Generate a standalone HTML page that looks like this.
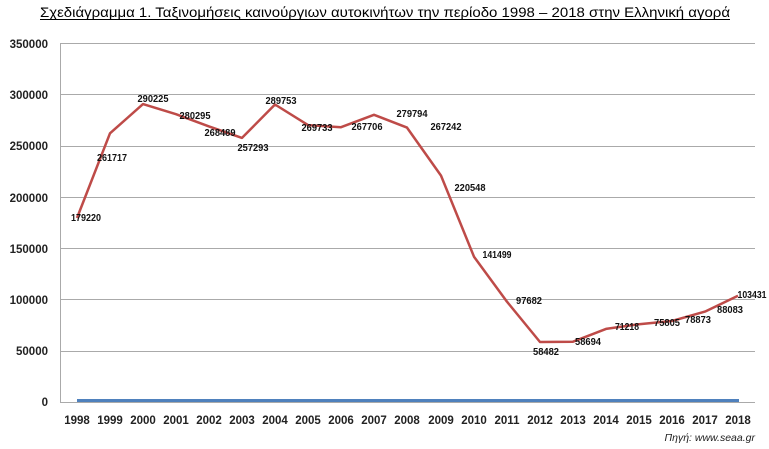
<!DOCTYPE html>
<html><head><meta charset="utf-8"><style>
html,body{margin:0;padding:0;background:#fff;}
svg{display:block;}
.v{font-family:"Liberation Sans","DejaVu Sans",sans-serif;font-weight:bold;font-size:10px;fill:#111;}
.t{font-family:"Liberation Sans","DejaVu Sans",sans-serif;font-weight:bold;font-size:11.5px;fill:#222;}
</style></head><body>
<svg width="769" height="449" viewBox="0 0 769 449" xmlns="http://www.w3.org/2000/svg">
<text x="40" y="17" font-family="Liberation Sans, DejaVu Sans, sans-serif" font-size="14" fill="#000" textLength="690" lengthAdjust="spacingAndGlyphs">Σχεδιάγραμμα 1. Ταξινομήσεις καινούργιων αυτοκινήτων την περίοδο 1998 – 2018 στην Ελληνική αγορά</text>
<line x1="40" y1="19.5" x2="730" y2="19.5" stroke="#000" stroke-width="1"/>
<g stroke="#aaa" stroke-width="1">
<line x1="60" y1="43.5" x2="755" y2="43.5"/>
<line x1="60" y1="94.5" x2="755" y2="94.5"/>
<line x1="60" y1="146.5" x2="755" y2="146.5"/>
<line x1="60" y1="197.5" x2="755" y2="197.5"/>
<line x1="60" y1="248.5" x2="755" y2="248.5"/>
<line x1="60" y1="299.5" x2="755" y2="299.5"/>
<line x1="60" y1="351.5" x2="755" y2="351.5"/>
<line x1="60" y1="402.5" x2="755" y2="402.5"/>
<line x1="60.5" y1="43" x2="60.5" y2="402"/>
</g>
<g class="t" text-anchor="end">
<text x="48" y="48">350000</text>
<text x="48" y="99">300000</text>
<text x="48" y="150">250000</text>
<text x="48" y="202">200000</text>
<text x="48" y="253">150000</text>
<text x="48" y="304">100000</text>
<text x="48" y="355">50000</text>
<text x="48" y="406">0</text>
</g>
<g class="t" text-anchor="middle" font-size="11">
<text x="77" y="424">1998</text><text x="110" y="424">1999</text><text x="143" y="424">2000</text><text x="176" y="424">2001</text><text x="209" y="424">2002</text><text x="242" y="424">2003</text><text x="275" y="424">2004</text><text x="308" y="424">2005</text><text x="341" y="424">2006</text><text x="374" y="424">2007</text><text x="407" y="424">2008</text><text x="441" y="424">2009</text><text x="474" y="424">2010</text><text x="507" y="424">2011</text><text x="540" y="424">2012</text><text x="573" y="424">2013</text><text x="606" y="424">2014</text><text x="639" y="424">2015</text><text x="672" y="424">2016</text><text x="705" y="424">2017</text><text x="738" y="424">2018</text>
</g>
<line x1="77" y1="400.5" x2="739" y2="400.5" stroke="#4f81bd" stroke-width="3"/>
<polyline fill="none" stroke="#be4b48" stroke-width="2.5" stroke-linejoin="round" points="77,218 110,133.3 143,104.1 176,114.2 209,126.4 242,137.9 275,104.5 308,125.1 341,127.2 374,114.8 407,127.6 441,175.6 474,256.7 507,301.7 540,342 573,341.7 606,328.9 639,324.2 672,321 705,311.6 738,295.8"/>
<g class="v" text-anchor="middle">
<text x="86" y="221" textLength="30" lengthAdjust="spacingAndGlyphs">179220</text>
<text x="112" y="161" textLength="30" lengthAdjust="spacingAndGlyphs">261717</text>
<text x="153" y="102" textLength="31" lengthAdjust="spacingAndGlyphs">290225</text>
<text x="195" y="119" textLength="31" lengthAdjust="spacingAndGlyphs">280295</text>
<text x="220" y="136" textLength="31" lengthAdjust="spacingAndGlyphs">268489</text>
<text x="253" y="151" textLength="31" lengthAdjust="spacingAndGlyphs">257293</text>
<text x="281" y="104" textLength="31" lengthAdjust="spacingAndGlyphs">289753</text>
<text x="317" y="131" textLength="31" lengthAdjust="spacingAndGlyphs">269733</text>
<text x="367" y="130" textLength="31" lengthAdjust="spacingAndGlyphs">267706</text>
<text x="412" y="117" textLength="31" lengthAdjust="spacingAndGlyphs">279794</text>
<text x="446" y="130" textLength="31" lengthAdjust="spacingAndGlyphs">267242</text>
<text x="470" y="191" textLength="31" lengthAdjust="spacingAndGlyphs">220548</text>
<text x="497" y="258" textLength="29" lengthAdjust="spacingAndGlyphs">141499</text>
<text x="529" y="304" textLength="26" lengthAdjust="spacingAndGlyphs">97682</text>
<text x="546" y="355" textLength="26" lengthAdjust="spacingAndGlyphs">58482</text>
<text x="588" y="345" textLength="26" lengthAdjust="spacingAndGlyphs">58694</text>
<text x="627" y="330" textLength="24" lengthAdjust="spacingAndGlyphs">71218</text>
<text x="667" y="326" textLength="26" lengthAdjust="spacingAndGlyphs">75805</text>
<text x="698" y="323" textLength="26" lengthAdjust="spacingAndGlyphs">78873</text>
<text x="730" y="313" textLength="26" lengthAdjust="spacingAndGlyphs">88083</text>
<text x="752" y="298" textLength="29" lengthAdjust="spacingAndGlyphs">103431</text>
</g>
<text x="755" y="441" text-anchor="end" font-family="Liberation Sans, DejaVu Sans, sans-serif" font-style="italic" font-size="10.5" fill="#222">Πηγή: www.seaa.gr</text>
</svg>
</body></html>
